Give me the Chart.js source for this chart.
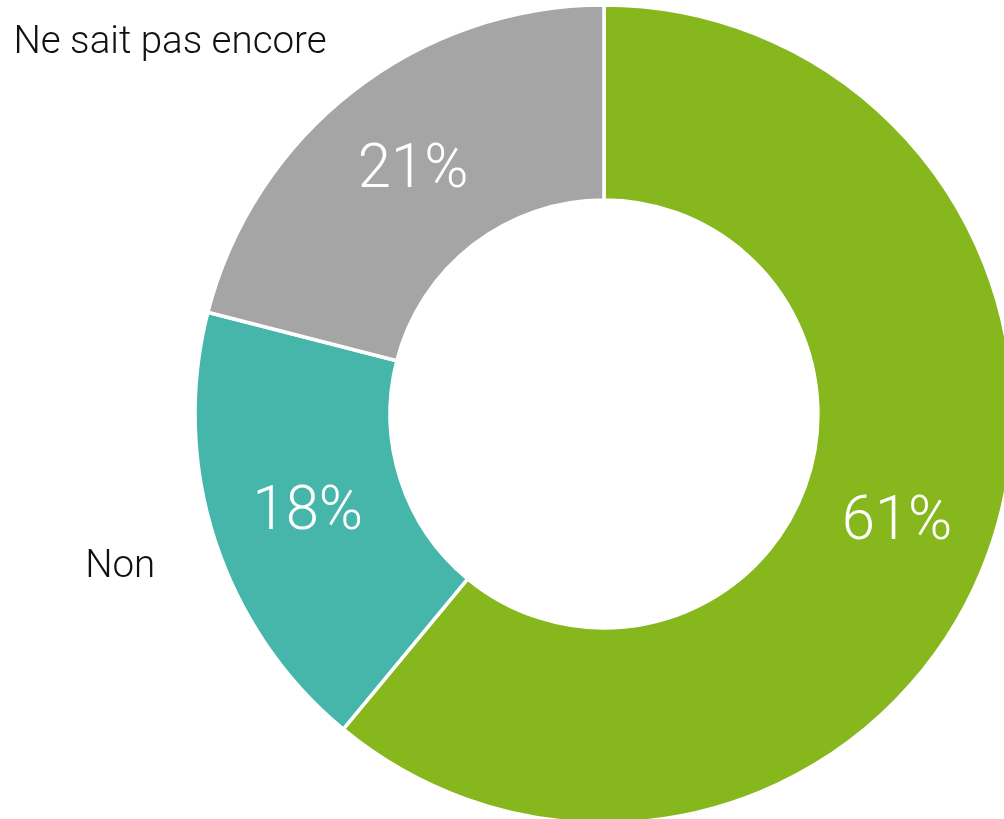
<!DOCTYPE html>
<html><head><meta charset="utf-8">
<script src="https://cdn.jsdelivr.net/npm/chart.js@4.4.0/dist/chart.umd.min.js"></script>
<style>html,body{margin:0;padding:0;background:#fff;overflow:hidden}#wrap{position:relative;width:1004px;height:819px}</style>
</head><body><div id="wrap"><canvas id="c"></canvas></div>
<script>
const categories = ["Oui", "Non", "Ne sait pas encore"];
const values = [61, 18, 21];
const colors = ["#86b71d", "#46b6ab", "#a5a5a5"];
const outerLabels = ["", "Non", "Ne sait pas encore"];

const FONT = "Roboto, 'DejaVu Sans', sans-serif";

const labelPlugin = {
  id: 'labels',
  afterDatasetsDraw(chart) {
    const ctx = chart.ctx;
    const meta = chart.getDatasetMeta(0);
    ctx.save();
    meta.data.forEach((arc, i) => {
      const p = arc.getProps(['x','y','startAngle','endAngle','innerRadius','outerRadius'], true);
      const mid = (p.startAngle + p.endAngle) / 2;
      const rMid = (p.innerRadius + p.outerRadius) / 2;
      const tx = p.x + Math.cos(mid) * rMid;
      const ty = p.y + Math.sin(mid) * rMid + 4;
      ctx.fillStyle = '#ffffff';
      ctx.font = "300 61px " + FONT;
      ctx.textAlign = 'center';
      ctx.textBaseline = 'middle';
      ctx.save();
      ctx.translate(tx, ty);
      ctx.scale(0.98, 1);
      ctx.fillText(values[i] + '%', 0, 0);
      ctx.restore();
      if (outerLabels[i]) {
        const rOut = p.outerRadius * 1.165;
        ctx.font = "300 38.5px " + FONT;
        const w = ctx.measureText(outerLabels[i]).width;
        const ox = p.x + Math.cos(mid) * rOut + 0.042 * w + 1.5;
        const oy = p.y + Math.sin(mid) * rOut + 6;
        ctx.fillStyle = '#111111';
        ctx.textAlign = 'right';
        ctx.fillText(outerLabels[i], ox, oy);
      }
    });
    ctx.restore();
  }
};

new Chart(document.getElementById('c'), {
  type: 'doughnut',
  data: {
    labels: categories,
    datasets: [{
      data: values,
      backgroundColor: colors,
      borderColor: '#ffffff',
      borderWidth: 3.5,
      hoverOffset: 0
    }]
  },
  options: {
    responsive: true,
    maintainAspectRatio: false,
    animation: false,
    radius: 409,
    cutout: '52.3%',
    layout: { padding: { left: 204, right: 0, top: 9, bottom: 0 } },
    plugins: { legend: { display: false }, tooltip: { enabled: false } },
    events: []
  },
  plugins: [labelPlugin]
});
</script></body></html>
